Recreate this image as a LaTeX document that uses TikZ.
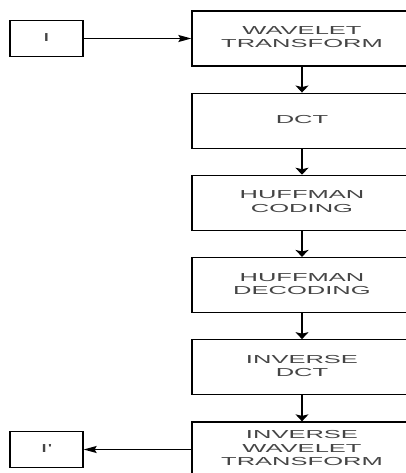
\documentclass[tikz,border=0pt]{standalone}
\usepackage{fontspec}
\setmainfont{Liberation Sans}[Ligatures=TeXOff]
\usepackage{graphicx}
\usetikzlibrary{arrows.meta}
\definecolor{txt}{HTML}{454545}
\newcommand{\stretchtxt}[1]{\scalebox{2.2}[1]{\begin{tabular}{@{}c@{}}#1\end{tabular}}}
\begin{document}
\begin{tikzpicture}[x=1pt,y=-1pt,
  box/.style={draw, line width=1.3pt, minimum width=220pt, minimum height=55pt, inner sep=0pt, text=txt, font=\fontsize{11.6}{13.3}\selectfont},
  smallbox/.style={draw, line width=1.3pt, minimum width=73pt, minimum height=36pt, inner sep=0pt, text=txt, font=\fontsize{11.6}{13.3}\selectfont},
  harr/.style={line width=1.2pt, -{Stealth[length=13pt,width=7pt,inset=2pt]}},
  varr/.style={line width=1.2pt, -{Stealth[length=7pt,width=13pt,inset=1.5pt]}}]
\useasboundingbox (0,0) rectangle (406,473);
\clip (0,0) rectangle (406,473);
\node[smallbox] (i) at (46.5,38.5) {\stretchtxt{I}};
\node[smallbox] (ip) at (46.5,449.5) {\stretchtxt{I'}};
\node[box] (b1) at (302,38.5) {\stretchtxt{WAVELET\\TRANSFORM}};
\node[box] (b2) at (302,120.7) {\stretchtxt{DCT}};
\node[box] (b3) at (302,202.9) {\stretchtxt{HUFFMAN\\CODING}};
\node[box] (b4) at (302,285.1) {\stretchtxt{HUFFMAN\\DECODING}};
\node[box] (b5) at (302,367.3) {\stretchtxt{INVERSE\\DCT}};
\node[box] (b6) at (302,449.5) {\stretchtxt{INVERSE\\WAVELET\\TRANSFORM}};
\draw[harr] (i) -- (b1);
\draw[varr] (b1) -- (b2);
\draw[varr] (b2) -- (b3);
\draw[varr] (b3) -- (b4);
\draw[varr] (b4) -- (b5);
\draw[varr] (b5) -- (b6);
\draw[harr] (b6) -- (ip);
\end{tikzpicture}
\end{document}
